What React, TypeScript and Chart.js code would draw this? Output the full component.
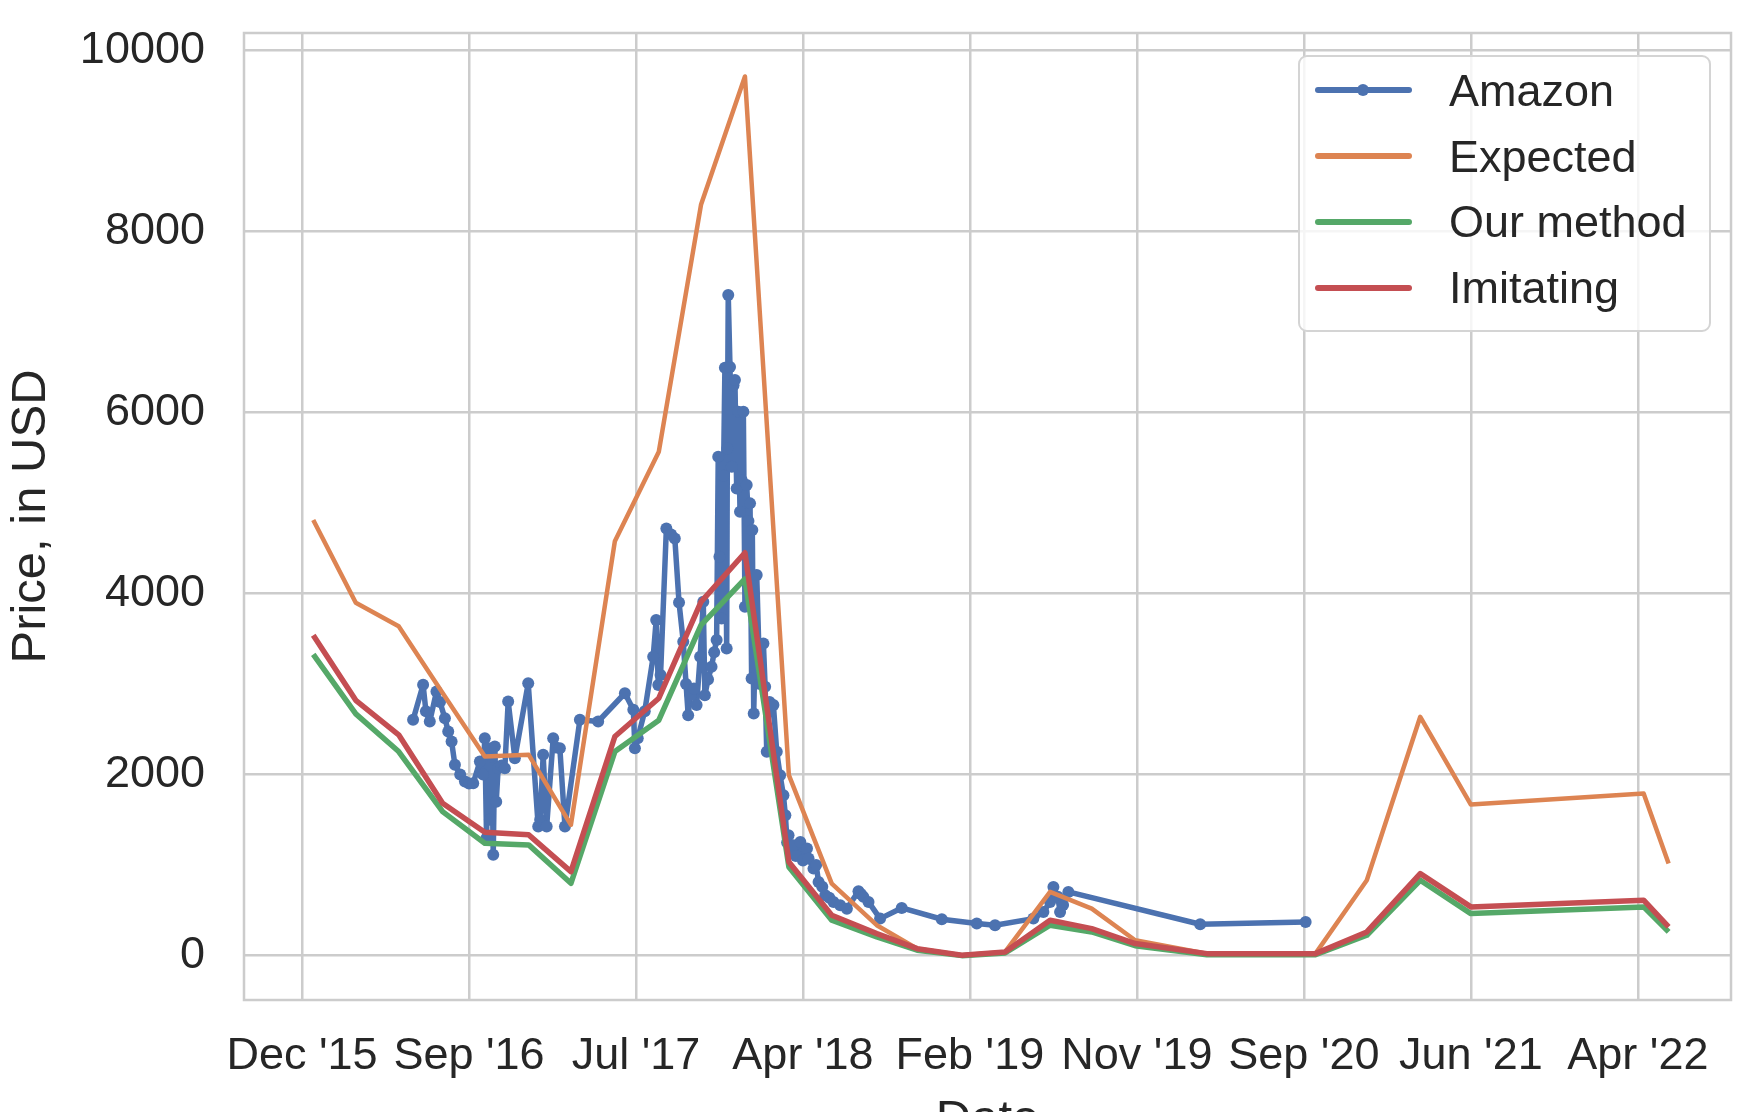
import React, { useEffect, useRef } from 'react';
import Chart from 'chart.js/auto';

// x values are "months since Jan 2015"
const xTickPositions = [11, 20.5, 30, 39.5, 49, 58.5, 68, 77.5, 87];
const xTickLabels = ["Dec '15", "Sep '16", "Jul '17", "Apr '18", "Feb '19", "Nov '19", "Sep '20", "Jun '21", "Apr '22"];
const yTickValues = [0, 2000, 4000, 6000, 8000, 10000];

const amazonMonths = [
  17.32, 17.89, 18.05, 18.27, 18.65, 18.85, 19.13, 19.32, 19.51, 19.7, 20.0, 20.27, 20.5, 20.74, 21.12, 21.3,
  21.4, 21.5, 21.6, 21.69, 21.8, 21.88, 21.97, 22.05, 22.16, 22.35, 22.54, 22.73, 23.11, 23.87, 24.44, 24.55,
  24.72, 24.92, 25.29, 25.45, 25.67, 25.96, 26.81, 27.85, 29.37, 29.85, 29.94, 30.1, 30.5, 30.98, 31.15, 31.27,
  31.4, 31.73, 32.0, 32.21, 32.45, 32.69, 32.85, 32.97, 33.1, 33.3, 33.45, 33.65, 33.83, 33.92, 34.1, 34.3,
  34.45, 34.59, 34.68, 34.75, 34.87, 34.98, 35.06, 35.16, 35.2, 35.25, 35.35, 35.45, 35.55, 35.63, 35.73, 35.82,
  35.92, 36.02, 36.11, 36.2, 36.3, 36.4, 36.49, 36.58, 36.62, 36.7, 36.87, 37.05, 37.25, 37.35, 37.44, 37.6,
  37.82, 38.01, 38.2, 38.39, 38.5, 38.6, 38.68, 38.8, 38.97, 39.1, 39.35, 39.5, 39.73, 39.82, 40.1, 40.25,
  40.39, 40.6, 40.77, 41.0, 41.24, 41.62, 42.0, 42.66, 42.8, 42.94, 43.23, 43.89, 45.12, 47.4, 49.39, 50.43,
  52.61, 53.18, 53.56, 53.75, 54.0, 54.13, 54.3, 54.6, 62.1, 68.1,
];
const amazonPrices = [
  2604, 2991, 2700, 2586, 2917, 2800, 2622, 2475, 2365, 2107, 2000, 1923, 1900, 1904, 2144, 2000,
  2401, 1300, 2291, 1500, 2200, 1113, 2310, 1700, 2070, 2100, 2070, 2807, 2180, 3009, 1425, 1500,
  2218, 1425, 2401, 2300, 2291, 1425, 2604, 2586, 2898, 2715, 2291, 2400, 2700, 3301, 3706, 2988,
  3100, 4718, 4650, 4608, 3900, 3466, 3000, 2656, 2877, 2950, 2767, 3300, 3908, 2877, 3050, 3190,
  3350, 3485, 5511, 4406, 3724, 5300, 6494, 3392, 5602, 7297, 6500, 5400, 6300, 6358, 5160, 6008,
  4903, 5250, 6008, 3853, 5198, 4800, 4995, 3061, 4701, 2674, 4203, 3000, 3448, 2969, 2251, 2800,
  2767, 2251, 1993, 1772, 1550, 1250, 1330, 1150, 1220, 1100, 1256, 1050, 1182, 1072, 961, 1000,
  814, 760, 667, 640, 593, 556, 519, 712, 680, 649, 593, 409, 527, 402, 354, 336,
  409, 483, 593, 759, 650, 483, 560, 704, 347, 372,
];

const modelMonths = [
  11.64, 14.06, 16.5, 19.0, 21.4, 23.9, 26.3, 28.8, 31.3, 33.7, 36.2, 38.7, 41.14, 43.7,
  46.0, 48.54, 51.0, 53.56, 55.93, 58.4, 62.48, 68.66, 71.58, 74.62, 77.5, 87.33, 88.75,
];
const expectedPrices = [
  4812, 3897, 3637, 2900, 2199, 2218, 1444, 4577, 5566, 8292, 9710, 1993, 796, 336,
  77, 4, 41, 704, 519, 170, 22, 22, 833, 2638, 1669, 1790, 1017,
];
const ourMethodPrices = [
  3327, 2670, 2254, 1591, 1241, 1223, 799, 2254, 2600, 3650, 4160, 980, 391, 206,
  60, 0, 30, 336, 262, 110, 10, 10, 225, 833, 464, 538, 262,
];
const imitatingPrices = [
  3538, 2820, 2439, 1683, 1362, 1334, 928, 2420, 2843, 3908, 4450, 1035, 446, 243,
  77, 4, 41, 391, 298, 133, 22, 22, 262, 906, 538, 612, 317,
];

const BLUE = '#4C72B0';
const ORANGE = '#DD8452';
const GREEN = '#55A868';
const RED = '#C44E52';
const TEXT = '#262626';
const GRID = '#cccccc';
const FONT = "'Liberation Sans', Arial, Helvetica, sans-serif";

const legendItems = [
  { label: 'Amazon', color: BLUE, marker: true },
  { label: 'Expected', color: ORANGE, marker: false },
  { label: 'Our method', color: GREEN, marker: false },
  { label: 'Imitating', color: RED, marker: false },
];

const framePlugin = {
  id: 'frame',
  beforeDatasetsDraw(chart: any) {
    const { ctx, chartArea: a } = chart;
    ctx.save();
    ctx.strokeStyle = GRID;
    ctx.lineWidth = 2.5;
    ctx.strokeRect(a.left, a.top, a.right - a.left, a.bottom - a.top);
    ctx.restore();
  },
};

export default function App() {
  const canvasRef = useRef<HTMLCanvasElement | null>(null);

  useEffect(() => {
    const canvas = canvasRef.current;
    if (!canvas) return;
    const pts = (xs: number[], ys: number[]) => xs.map((x, i) => ({ x, y: ys[i] }));
    const lineCommon = {
      pointRadius: 0,
      pointHoverRadius: 0,
      tension: 0,
      borderJoinStyle: 'round' as const,
      fill: false,
    };
    const chart = new Chart(canvas, {
      type: 'line',
      data: {
        datasets: [
          {
            label: 'Amazon',
            data: pts(amazonMonths, amazonPrices),
            borderColor: BLUE,
            backgroundColor: BLUE,
            pointBackgroundColor: BLUE,
            pointBorderWidth: 0,
            pointRadius: 6,
            pointHoverRadius: 6,
            borderWidth: 5.5,
            tension: 0,
            borderJoinStyle: 'round',
            fill: false,
            order: 3,
          },
          { label: 'Expected', data: pts(modelMonths, expectedPrices), borderColor: ORANGE, backgroundColor: ORANGE, borderWidth: 4.5, order: 2, ...lineCommon },
          { label: 'Our method', data: pts(modelMonths, ourMethodPrices), borderColor: GREEN, backgroundColor: GREEN, borderWidth: 5.5, order: 1, ...lineCommon },
          { label: 'Imitating', data: pts(modelMonths, imitatingPrices), borderColor: RED, backgroundColor: RED, borderWidth: 5.5, order: 0, ...lineCommon },
        ],
      },
      options: {
        animation: false,
        responsive: false,
        devicePixelRatio: 1,
        layout: { padding: { left: 0, top: 33, right: 24, bottom: -38 } },
        plugins: {
          legend: { display: false },
          tooltip: { enabled: false },
        },
        scales: {
          x: {
            type: 'linear',
            min: 7.7,
            max: 92.3,
            afterBuildTicks: (axis: any) => {
              axis.ticks = xTickPositions.map((v) => ({ value: v }));
            },
            afterFit: (scale: any) => {
              scale.height = 150;
              scale.paddingLeft = 0;
              scale.paddingRight = 0;
              scale.paddingTop = 0;
              scale.paddingBottom = 0;
            },
            ticks: {
              autoSkip: false,
              maxRotation: 0,
              minRotation: 0,
              padding: 30,
              color: TEXT,
              font: { family: FONT, size: 45 },
              callback: (_v: any, i: number) => xTickLabels[i],
            },
            grid: { color: GRID, lineWidth: 2.5, drawTicks: false },
            border: { display: false },
            title: {
              display: true,
              text: 'Date',
              color: TEXT,
              font: { family: FONT, size: 49 },
              padding: { top: 0, bottom: 0 },
            },
          },
          y: {
            type: 'linear',
            min: -490,
            max: 10190,
            afterBuildTicks: (axis: any) => {
              axis.ticks = yTickValues.map((v) => ({ value: v }));
            },
            afterFit: (scale: any) => {
              scale.width = 244;
              scale.paddingLeft = 0;
              scale.paddingRight = 0;
              scale.paddingTop = 0;
              scale.paddingBottom = 0;
            },
            ticks: {
              padding: 39,
              color: TEXT,
              font: { family: FONT, size: 45 },
              callback: (v: any) => String(v),
            },
            grid: { color: GRID, lineWidth: 2.5, drawTicks: false },
            border: { display: false },
            title: {
              display: true,
              text: 'Price, in USD',
              color: TEXT,
              font: { family: FONT, size: 49 },
              padding: { top: 2, bottom: 0 },
            },
          },
        },
      },
      plugins: [framePlugin],
    } as any);
    return () => chart.destroy();
  }, []);

  const rowCenters = [35, 101, 166.5, 232.5];

  return (
    <div style={{ position: 'absolute', left: 0, top: 0, width: 1755, height: 1112, overflow: 'hidden', background: '#ffffff' }}>
      <canvas ref={canvasRef} width={1755} height={1112} style={{ display: 'block', width: 1755, height: 1112 }} />
      <div
        style={{
          position: 'absolute',
          left: 1298,
          top: 55,
          width: 413,
          height: 277,
          boxSizing: 'border-box',
          border: '2px solid #d4d4d4',
          borderRadius: 9,
          background: 'rgba(255,255,255,0.8)',
          fontFamily: FONT,
          fontSize: 45,
          color: TEXT,
        }}
      >
        {legendItems.map((it, i) => (
          <div
            key={it.label}
            style={{
              position: 'absolute',
              left: 0,
              top: rowCenters[i] - 2 - 33,
              height: 66,
              width: '100%',
              display: 'flex',
              alignItems: 'center',
            }}
          >
            <div style={{ position: 'absolute', left: 15, top: 30, width: 97, height: 6, background: it.color, borderRadius: 3 }} />
            {it.marker && (
              <div style={{ position: 'absolute', left: 57, top: 27, width: 12, height: 12, borderRadius: '50%', background: it.color }} />
            )}
            <span style={{ position: 'absolute', left: 149, lineHeight: 1, whiteSpace: 'nowrap' }}>{it.label}</span>
          </div>
        ))}
      </div>
    </div>
  );
}
